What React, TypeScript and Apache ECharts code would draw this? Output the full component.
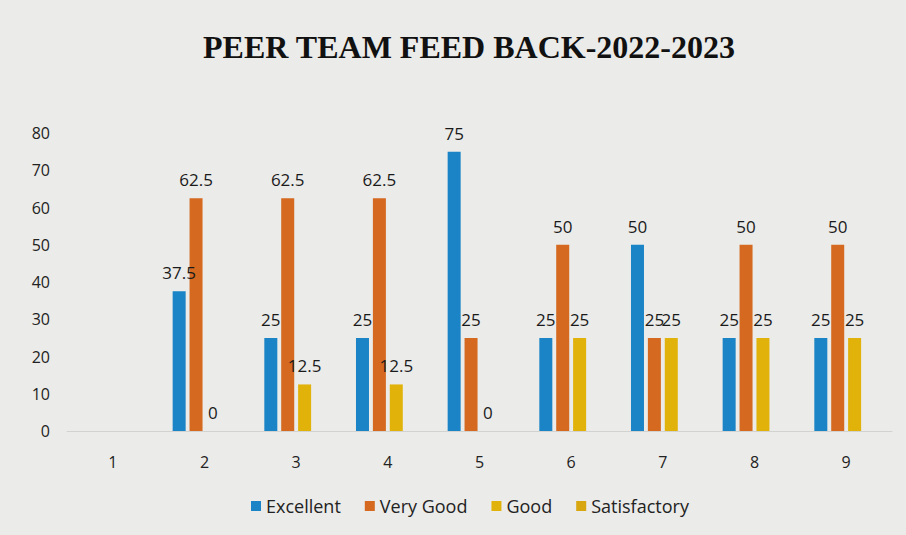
import React, { useEffect, useRef } from "react";
import * as echarts from "echarts";

const categories = ["1", "2", "3", "4", "5", "6", "7", "8", "9"];
const excellent = [null, 37.5, 25, 25, 75, 25, 50, 25, 25];
const veryGood = [null, 62.5, 62.5, 62.5, 25, 50, 25, 50, 50];
const good = [null, 0, 12.5, 12.5, 0, 25, 25, 25, 25];
const satisfactory = [null, null, null, null, null, null, null, null, null];
const seriesNames = ["Excellent", "Very Good", "Good", "Satisfactory"];
const colors = ["#1a84c6", "#d4691f", "#e0b20a", "#d8a60f"];

export default function App() {
  const ref = useRef<HTMLDivElement>(null);
  useEffect(() => {
    if (!ref.current) return;
    const chart = echarts.init(ref.current, null, { renderer: "svg" });
    const font = "'Open Sans', sans-serif";
    const mk = (name: string, data: (number | null)[], color: string) => ({
      name,
      type: "bar",
      data,
      barWidth: 13,
      barGap: "30%",
      itemStyle: { color },
      label: {
        show: true,
        position: "top",
        distance: 10,
        color: "#1a1a1a",
        fontFamily: font,
        fontSize: 17,
      },
    });
    chart.setOption({
      animation: false,
      backgroundColor: "#ebebe9",
      title: {
        text: "PEER TEAM FEED BACK-2022-2023",
        left: 464,
        top: 26,
        textAlign: "center",
        textStyle: {
          fontFamily: "'Liberation Serif', 'Times New Roman', serif",
          fontWeight: "bold",
          fontSize: 32,
          color: "#111",
        },
      },
      legend: {
        data: seriesNames,
        left: 246,
        top: 492,
        itemWidth: 10,
        itemHeight: 10,
        itemGap: 24,
        icon: "rect",
        textStyle: { fontFamily: font, fontSize: 18, color: "#222" },
      },
      grid: { left: 67, right: 14, top: 133, bottom: 104, containLabel: false },
      xAxis: {
        type: "category",
        data: categories,
        axisLine: { show: true, lineStyle: { color: "#d2d2d0", width: 1 } },
        axisTick: { show: false },
        axisLabel: { margin: 23, color: "#222", fontFamily: font, fontSize: 16 },
      },
      yAxis: {
        type: "value",
        min: 0,
        max: 80,
        interval: 10,
        axisLine: { show: false },
        axisTick: { show: false },
        splitLine: { show: false },
        axisLabel: { margin: 17, color: "#222", fontFamily: font, fontSize: 16 },
      },
      series: [
        mk(seriesNames[0], excellent, colors[0]),
        mk(seriesNames[1], veryGood, colors[1]),
        mk(seriesNames[2], good, colors[2]),
        mk(seriesNames[3], satisfactory, colors[3]),
      ],
    });
    return () => chart.dispose();
  }, []);
  return (
    <div
      ref={ref}
      style={{ position: "fixed", left: 0, top: 0, width: 906, height: 535 }}
    />
  );
}
